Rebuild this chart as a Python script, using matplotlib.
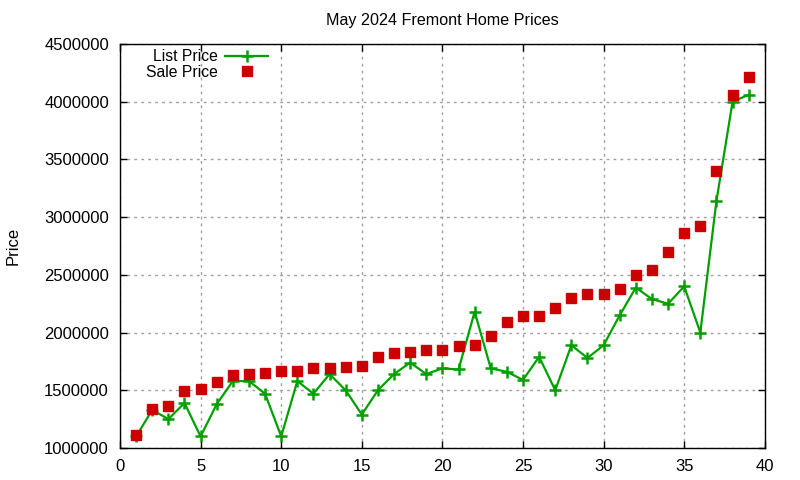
import matplotlib
matplotlib.use("Agg")
import matplotlib.pyplot as plt
from matplotlib.ticker import FuncFormatter, MultipleLocator

plt.rcParams['font.family'] = ['Liberation Sans', 'DejaVu Sans']

# house index 1..39, sorted by sale price
idx = list(range(1, 40))
list_price = [1100000, 1330000, 1250000, 1390000, 1100000, 1380000, 1580000, 1580000, 1470000, 1100000,
              1580000, 1470000, 1640000, 1500000, 1290000, 1500000, 1640000, 1740000, 1640000, 1690000,
              1680000, 2180000, 1690000, 1660000, 1590000, 1790000, 1500000, 1890000, 1780000, 1890000,
              2150000, 2390000, 2290000, 2250000, 2400000, 2000000, 3140000, 4000000, 4060000]
sale_price = [1110000, 1340000, 1360000, 1490000, 1510000, 1570000, 1630000, 1640000, 1650000, 1670000,
              1670000, 1690000, 1690000, 1700000, 1710000, 1790000, 1820000, 1830000, 1850000, 1850000,
              1880000, 1890000, 1970000, 2090000, 2140000, 2140000, 2210000, 2300000, 2330000, 2330000,
              2380000, 2500000, 2540000, 2700000, 2860000, 2920000, 3400000, 4060000, 4210000]

fig = plt.figure(figsize=(8, 4.8), dpi=100)
ax = fig.add_axes([0.15, 0.0667, 0.806, 0.8416])

ax.plot(idx, list_price, color='#00a000', lw=1.6, marker='+', ms=8, mew=1.8, label='List Price')
ax.plot(idx, sale_price, ls='none', color='#cc0000', marker='s', ms=7, label='Sale Price')

ax.set_xlim(0, 40)
ax.set_ylim(1000000, 4500000)
ax.xaxis.set_major_locator(MultipleLocator(5))
ax.yaxis.set_major_locator(MultipleLocator(500000))
ax.yaxis.set_major_formatter(FuncFormatter(lambda v, p: '%d' % v))
ax.tick_params(direction='in', length=5, width=1, top=True, right=True, labelsize=12, pad=8)
ax.grid(True, color='#a0a0a0', ls=(0, (2, 3)), lw=1)
for s in ax.spines.values():
    s.set_linewidth(1)

ax.set_title('May 2024 Fremont Home Prices', fontsize=11.6, pad=14)
ax.set_ylabel('Price', fontsize=12, labelpad=17)

ax.legend(loc='upper left', bbox_to_anchor=(0.018, 1.022), frameon=False, markerfirst=False,
          fontsize=11.3, handlelength=2.7, handletextpad=0.5, labelspacing=0.02)

fig.savefig('out.png', dpi=100)
